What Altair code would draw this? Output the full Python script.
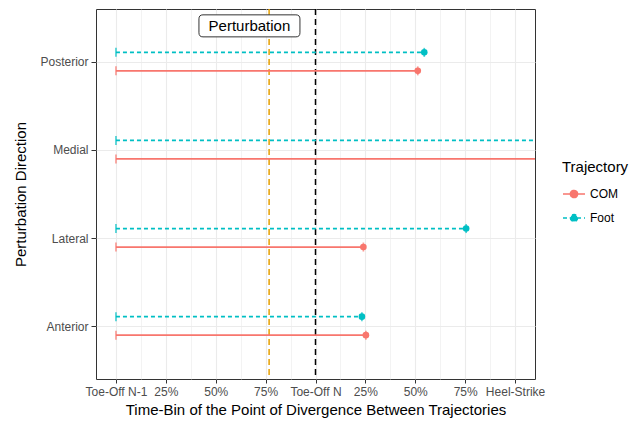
import json
import altair as alt
import pandas as pd

# ---- data ----
directions = ["Posterior", "Medial", "Lateral", "Anterior"]
trajectories = ["COM", "Foot"]
start_bin = [0, 0, 0, 0]
com_end = [6.05, 9.0, 4.96, 5.01]     # Medial runs past the right edge
foot_end = [6.18, 9.0, 7.02, 4.93]
tick_labels = ["Toe-Off N-1", "25%", "50%", "75%", "Toe-Off N",
               "25%", "50%", "75%", "Heel-Strike"]
perturbation_x = [3.07]
toe_off_x = [4.0]
label_x = [2.676]
label_text = ["Perturbation"]

# ---- styles ----
colors = ["#F8766D", "#00BFC4"]
FONT = "Liberation Sans"

rows = []
for d, s, c, f in zip(directions, start_bin, com_end, foot_end):
    rows.append({"Direction": d, "Trajectory": "COM", "start": s, "end": c})
    rows.append({"Direction": d, "Trajectory": "Foot", "start": s, "end": f})
df = pd.DataFrame(rows)

x_scale = alt.Scale(domain=[-0.4, 8.4], nice=False, zero=False)
y_scale = alt.Scale(type="point", domain=directions, padding=0.6)
color_scale = alt.Scale(domain=trajectories, range=colors)
fill_scale = alt.Scale(domain=trajectories, range=colors)
dash_scale = alt.Scale(domain=trajectories, range=[[1, 0], [4, 3]])

n_half = 2 * (len(tick_labels) - 1)
x_axis = alt.Axis(
    title="Time-Bin of the Point of Divergence Between Trajectories",
    values=[i * 0.5 for i in range(n_half + 1)],
    labelExpr=f"datum.value % 1 == 0 ? {json.dumps(tick_labels)}[datum.value] : ''",
    tickColor={"condition": {"test": "datum.value % 1 != 0", "value": "transparent"},
               "value": "#333333"},
    gridWidth={"condition": {"test": "datum.value % 1 != 0", "value": 0.6},
               "value": 1.1},
    labelOverlap=False, labelFlush=False, labelPadding=3, titlePadding=5,
)
y_axis = alt.Axis(title="Perturbation Direction", labelPadding=3, titlePadding=11,
                  gridWidth=1.1, tickSize=5)

def X(field):
    return alt.X(f"{field}:Q", scale=x_scale, axis=x_axis)

Y = alt.Y("Direction:N", scale=y_scale, axis=y_axis, sort=directions)

legend_symbol = ("M-1,0H1M-0.32,0A0.32,0.32,0,1,0,0.32,0"
                 "A0.32,0.32,0,1,0,-0.32,0Z")
legend = alt.Legend(
    title="Trajectory", orient="none", padding=0, legendX=466, legendY=151,
    titleFont=FONT, titleFontSize=15, titleFontWeight="normal", titlePadding=7,
    titleColor="black",
    labelFont=FONT, labelFontSize=12, labelOffset=4, labelColor="black",
    rowPadding=5, symbolType=legend_symbol, symbolSize=484, symbolStrokeWidth=1.7,
)

base = alt.Chart(df)
offsets = {"COM": 9, "Foot": -9.5}

layers = []
# reference lines
layers.append(alt.Chart(pd.DataFrame({"x": perturbation_x})).mark_rule(
    color="#E69F00", strokeWidth=1.5, strokeDash=[6, 4]).encode(x=X("x")))
layers.append(alt.Chart(pd.DataFrame({"x": toe_off_x})).mark_rule(
    color="black", strokeWidth=1.5, strokeDash=[6, 4]).encode(x=X("x")))

for traj, col in zip(trajectories, colors):
    sub = base.transform_filter(alt.datum.Trajectory == traj)
    off = offsets[traj]
    layers.append(sub.mark_rule(strokeWidth=1.7, yOffset=off, clip=True).encode(
        x=X("start"), x2="end:Q", y=Y,
        color=alt.Color("Trajectory:N", scale=color_scale, legend=legend),
        strokeDash=alt.StrokeDash("Trajectory:N", scale=dash_scale),
    ))
    layers.append(sub.mark_tick(thickness=1.7, size=9, yOffset=off, color=col,
                                clip=True).encode(x=X("start"), y=Y))
    layers.append(sub.mark_tick(thickness=1.7, size=9, yOffset=off, color=col,
                                clip=True).encode(x=X("end"), y=Y))
    layers.append(sub.mark_point(filled=True, size=44, opacity=1, yOffset=off,
                                 clip=True).encode(
        x=X("end"), y=Y,
        fill=alt.Fill("Trajectory:N", scale=fill_scale),
    ))

# annotation box + text
box_path = ("M-0.92,-0.218 H0.92 Q1,-0.218 1,-0.138 V0.138 Q1,0.218 0.92,0.218 "
            "H-0.92 Q-1,0.218 -1,0.138 V-0.138 Q-1,-0.218 -0.92,-0.218 Z")
lab_df = pd.DataFrame({"x": label_x, "Direction": [directions[0]], "text": label_text})
layers.append(alt.Chart(lab_df).mark_point(
    shape=box_path, size=10201, filled=True, fill="white", stroke="#333333",
    strokeWidth=1, opacity=1, yOffset=-36).encode(x=X("x"), y=Y))
layers.append(alt.Chart(lab_df).mark_text(
    font=FONT, fontSize=15, color="black", baseline="middle", align="center",
    dy=-36).encode(x=X("x"), y=Y, text="text:N"))

chart = alt.layer(*layers).properties(
    width=439, height=370, background="white",
    autosize=alt.AutoSizeParams(type="none"),
    padding={"left": 96, "top": 9, "right": 109, "bottom": 44},
).configure_view(
    stroke="#333333", strokeWidth=1,
).configure_axis(
    domain=False, grid=True, gridColor="#EBEBEB", tickColor="#333333", tickSize=4,
    labelColor="#4D4D4D", labelFont=FONT, labelFontSize=12,
    titleColor="black", titleFont=FONT, titleFontSize=15, titleFontWeight="normal",
)

chart.save("out.html", embed_options={"renderer": "svg", "actions": False})
